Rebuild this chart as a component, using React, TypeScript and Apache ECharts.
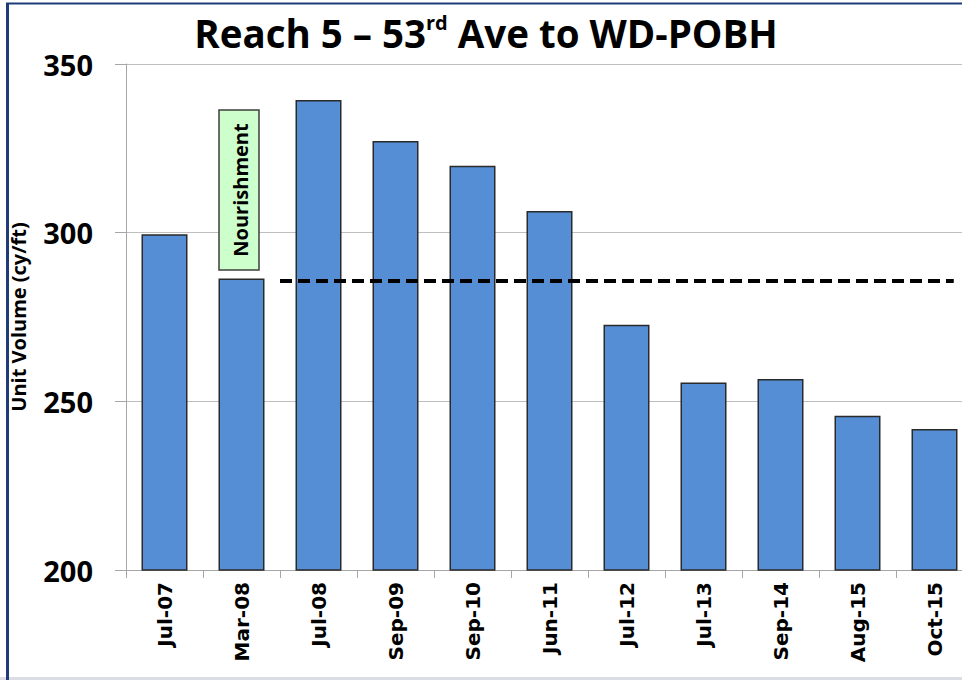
import React, { useEffect, useRef } from "react";
import * as echarts from "echarts";

const categories = ["Jul-07", "Mar-08", "Jul-08", "Sep-09", "Sep-10", "Jun-11", "Jul-12", "Jul-13", "Sep-14", "Aug-15", "Oct-15"];
const unitVolume = [299.5, 286.4, 339.3, 327.2, 319.8, 306.4, 272.7, 255.6, 256.6, 245.7, 241.8];
const referenceLevel = 285.7;
const referenceStart = 2; // category boundary (before Jul-08)
const referenceEnd = 10.75;
const yMin = 200;
const yMax = 350;
const yInterval = 50;

export default function App() {
  const ref = useRef<HTMLDivElement>(null);
  useEffect(() => {
    document.body.style.margin = "0";
    if (!ref.current) return;
    const chart = echarts.init(ref.current, null, { renderer: "svg" });
    const option: any = {
      animation: false,
      backgroundColor: "#ffffff",
      grid: { left: 126, top: 64, width: 847, height: 506, containLabel: false, outerBoundsMode: "none" },
      xAxis: [
        {
          type: "category",
          data: categories,
          boundaryGap: true,
          axisLine: { show: true, lineStyle: { color: "#A6A6A6", width: 1 } },
          axisTick: { show: true, length: 8, lineStyle: { color: "#A6A6A6" } },
          axisLabel: {
            interval: 0,
            rotate: 90,
            margin: 12,
            color: "#000",
            fontFamily: "DejaVu Sans",
            fontWeight: "bold",
            fontSize: 20,
          },
          splitLine: { show: false },
        },
        { type: "value", min: 0, max: 11, show: false },
      ],
      yAxis: {
        type: "value",
        min: yMin,
        max: yMax,
        interval: yInterval,
        axisLine: { show: true, lineStyle: { color: "#A6A6A6" } },
        axisTick: { show: true, length: 11, lineStyle: { color: "#A6A6A6" } },
        axisLabel: {
          margin: 33,
          color: "#000",
          fontFamily: "Open Sans",
          fontWeight: "bold",
          fontSize: 29,
        },
        splitLine: { show: true, lineStyle: { color: "#BFBFBF", width: 1 } },
        name: "Unit Volume (cy/ft)",
        nameLocation: "middle",
        nameRotate: 90,
        nameGap: 98,
        nameTextStyle: { color: "#000", fontFamily: "Open Sans", fontWeight: "bold", fontSize: 20 },
      },
      series: [
        {
          type: "bar",
          data: unitVolume,
          barWidth: 46,
          itemStyle: { color: "#558ED5", borderColor: "#2a2a2a", borderWidth: 1.5 },
        },
        {
          type: "line",
          xAxisIndex: 1,
          data: [
            [referenceStart, referenceLevel],
            [referenceEnd, referenceLevel],
          ],
          symbol: "none",
          lineStyle: { color: "#000", width: 4, type: [12, 6] },
          z: 5,
        },
      ],
      graphic: [
        {
          type: "text",
          x: 486,
          y: 33,
          style: {
            text: "{a|Reach 5 – 53}{s|rd}{a| Ave to WD-POBH}",
            align: "center",
            verticalAlign: "middle",
            fill: "#000",
            rich: {
              a: { fontSize: 38.5, fontWeight: "bold", fontFamily: "Open Sans", lineHeight: 42, fill: "#000" },
              s: { fontSize: 20, fontWeight: "bold", fontFamily: "Open Sans", lineHeight: 24, verticalAlign: "top", fill: "#000" },
            },
          },
        },
        {
          type: "rect",
          shape: { x: 219, y: 110, width: 40, height: 160 },
          style: { fill: "#CCFFCC", stroke: "#3F3F3F", lineWidth: 1.5 },
          z: 10,
        },
        {
          type: "text",
          x: 240,
          y: 190,
          rotation: Math.PI / 2,
          style: {
            text: "Nourishment",
            align: "center",
            verticalAlign: "middle",
            fill: "#000",
            font: "bold 20px 'Open Sans'",
          },
          z: 11,
        },
        { type: "line", shape: { x1: 6, y1: 3.5, x2: 962, y2: 3.5 }, style: { stroke: "#1F3C78", lineWidth: 2 }, z: 20 },
        { type: "line", shape: { x1: 7.5, y1: 3, x2: 7.5, y2: 680 }, style: { stroke: "#1F3C78", lineWidth: 3 }, z: 20 },
        { type: "rect", shape: { x: 0, y: 677, width: 962, height: 3 }, style: { fill: "#DCDCE4" }, z: 19 },
      ],
    };
    chart.setOption(option);
    return () => chart.dispose();
  }, []);
  return <div ref={ref} style={{ width: 962, height: 680 }} />;
}
